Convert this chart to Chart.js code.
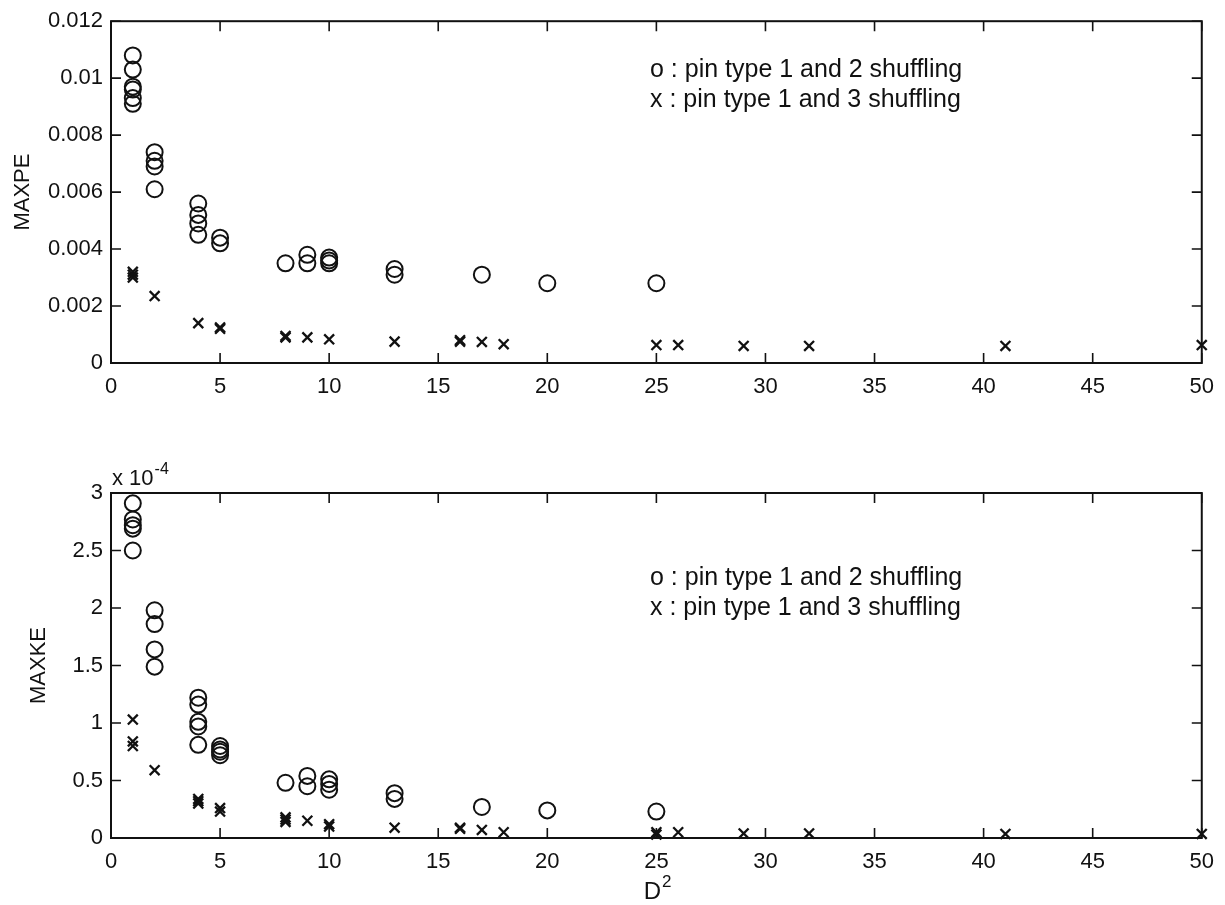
<!DOCTYPE html>
<html>
<head>
<meta charset="utf-8">
<script src="https://cdn.jsdelivr.net/npm/chart.js@4.4.1/dist/chart.umd.min.js"></script>
<style>
  html, body { margin: 0; padding: 0; background: #fff; }
  #wrap { position: relative; width: 1225px; height: 905px; overflow: hidden; }
  .box { position: absolute; left: 0; width: 1225px; }
  #topBox { top: 0; height: 440px; }
  #botBox { top: 440px; height: 465px; }
</style>
</head>
<body>
<div id="wrap">
  <div class="box" id="topBox"><canvas id="peChart" width="1225" height="440"></canvas></div>
  <div class="box" id="botBox"><canvas id="keChart" width="1225" height="465"></canvas></div>
</div>
<script>
// D^2 values on the x axis
var xTicks = [0, 5, 10, 15, 20, 25, 30, 35, 40, 45, 50];

// MAXPE, pin type 1 and 2 shuffling (circles)
var peCircleX = [1, 1, 1, 1, 1, 1, 2, 2, 2, 2, 4, 4, 4, 4, 5, 5, 8, 9, 9, 10, 10, 10, 13, 13, 17, 20, 25];
var peCircleY = [0.0108, 0.0103, 0.0097, 0.0096, 0.0093, 0.0091, 0.0074, 0.0071, 0.0069, 0.0061,
                 0.0056, 0.0052, 0.0049, 0.0045, 0.0044, 0.0042, 0.0035, 0.0038, 0.0035,
                 0.0037, 0.0036, 0.0035, 0.0033, 0.0031, 0.0031, 0.0028, 0.0028];
// MAXPE, pin type 1 and 3 shuffling (crosses)
var peCrossX = [1, 1, 1, 2, 4, 5, 5, 8, 8, 9, 10, 13, 16, 16, 17, 18, 25, 26, 29, 32, 41, 50];
var peCrossY = [0.0032, 0.0031, 0.0030, 0.00235, 0.0014, 0.00125, 0.0012, 0.00095, 0.0009, 0.0009,
                0.00083, 0.00075, 0.0008, 0.00075, 0.00074, 0.00066, 0.00063, 0.00063,
                0.0006, 0.0006, 0.0006, 0.00063];
var peTickValues = [0, 0.002, 0.004, 0.006, 0.008, 0.01, 0.012];
var peTickLabels = ['0', '0.002', '0.004', '0.006', '0.008', '0.01', '0.012'];

// MAXKE in units of 1e-4, pin type 1 and 2 shuffling (circles)
var keCircleX = [1, 1, 1, 1, 1, 2, 2, 2, 2, 4, 4, 4, 4, 4, 5, 5, 5, 5, 8, 9, 9, 10, 10, 10, 13, 13, 17, 20, 25];
var keCircleY = [2.91, 2.77, 2.72, 2.69, 2.50, 1.98, 1.86, 1.64, 1.49, 1.22, 1.16, 1.01, 0.97, 0.81,
                 0.80, 0.77, 0.75, 0.72, 0.48, 0.54, 0.45, 0.51, 0.47, 0.42, 0.39, 0.34, 0.27, 0.24, 0.23];
// MAXKE in units of 1e-4, pin type 1 and 3 shuffling (crosses)
var keCrossX = [1, 1, 1, 2, 4, 4, 4, 5, 5, 8, 8, 8, 9, 10, 10, 13, 16, 16, 17, 18, 25, 25, 26, 29, 32, 41, 50];
var keCrossY = [1.03, 0.84, 0.80, 0.59, 0.34, 0.32, 0.30, 0.26, 0.23, 0.18, 0.16, 0.14, 0.15, 0.12, 0.10,
                0.09, 0.09, 0.08, 0.07, 0.05, 0.05, 0.03, 0.05, 0.04, 0.04, 0.035, 0.035];
var keTickValues = [0, 0.5, 1, 1.5, 2, 2.5, 3];
var keTickLabels = ['0', '0.5', '1', '1.5', '2', '2.5', '3'];

var legendLines = ['o : pin type 1 and 2 shuffling', 'x : pin type 1 and 3 shuffling'];

var FONT = '"Liberation Sans", Arial, Helvetica, sans-serif';
var INK = '#111';

function toPoints(xs, ys) {
    return xs.map(function (x, i) { return { x: x, y: ys[i] }; });
}

// MATLAB style box with inward ticks on all four sides, plus the text notes
var framePlugin = {
    id: 'frame',
    afterDatasetsDraw: function (chart, args, opts) {
        var ctx = chart.ctx;
        var a = chart.chartArea;
        var xs = chart.scales.x, ys = chart.scales.y;
        var len = 10;
        ctx.save();
        ctx.strokeStyle = INK;
        ctx.lineWidth = 1.6;
        xs.ticks.forEach(function (t) {
            var px = xs.getPixelForValue(t.value);
            ctx.beginPath();
            ctx.moveTo(px, a.bottom); ctx.lineTo(px, a.bottom - len);
            ctx.moveTo(px, a.top); ctx.lineTo(px, a.top + len);
            ctx.stroke();
        });
        ys.ticks.forEach(function (t) {
            var py = ys.getPixelForValue(t.value);
            ctx.beginPath();
            ctx.moveTo(a.left, py); ctx.lineTo(a.left + len, py);
            ctx.moveTo(a.right, py); ctx.lineTo(a.right - len, py);
            ctx.stroke();
        });
        ctx.lineWidth = 2;
        ctx.strokeRect(a.left, a.top, a.right - a.left, a.bottom - a.top);

        ctx.fillStyle = INK;
        ctx.textBaseline = 'middle';
        ctx.textAlign = 'left';
        ctx.font = '25px ' + FONT;
        (opts.lines || []).forEach(function (line, i) {
            ctx.fillText(line, opts.x, opts.y + i * 30);
        });
        ctx.textBaseline = 'alphabetic';
        if (opts.exponent) {
            ctx.font = '22px ' + FONT;
            var base = 'x 10';
            ctx.fillText(base, a.left + 1, a.top - 8);
            var w = ctx.measureText(base).width;
            ctx.font = '16px ' + FONT;
            ctx.fillText(opts.exponent, a.left + 2 + w, a.top - 19);
        }
        if (opts.xTitle) {
            var cx = (a.left + a.right) / 2;
            ctx.font = '24px ' + FONT;
            var dw = ctx.measureText(opts.xTitle).width;
            ctx.fillText(opts.xTitle, cx - dw / 2 - 4, chart.height - 6);
            ctx.font = '17px ' + FONT;
            ctx.fillText(opts.xTitleSup, cx + dw / 2 - 3, chart.height - 18);
        }
        ctx.restore();
    }
};

function makeChart(canvasId, circles, crosses, tickValues, tickLabels, cfg) {
    return new Chart(document.getElementById(canvasId), {
        type: 'scatter',
        data: {
            datasets: [{
                data: circles,
                pointStyle: 'circle',
                pointRadius: 8,
                pointHoverRadius: 8,
                pointBorderWidth: 2,
                borderColor: INK,
                backgroundColor: 'rgba(0,0,0,0)',
                clip: false
            }, {
                data: crosses,
                pointStyle: 'crossRot',
                pointRadius: 7,
                pointHoverRadius: 7,
                pointBorderWidth: 2.3,
                borderColor: INK,
                backgroundColor: INK,
                clip: false
            }]
        },
        options: {
            responsive: false,
            animation: false,
            events: [],
            layout: { padding: { top: cfg.top, right: 18, left: 0, bottom: 0 } },
            plugins: {
                legend: { display: false },
                tooltip: { enabled: false },
                frame: {
                    lines: legendLines, x: 650, y: cfg.noteY, exponent: cfg.exponent,
                    xTitle: cfg.xTitle, xTitleSup: cfg.xTitleSup
                }
            },
            scales: {
                x: {
                    type: 'linear',
                    min: 0,
                    max: 50,
                    afterBuildTicks: function (s) {
                        s.ticks = xTicks.map(function (v) { return { value: v }; });
                    },
                    afterFit: function (s) { s.height = cfg.xHeight; },
                    grid: { display: false, drawTicks: false, tickLength: 0 },
                    border: { display: false },
                    ticks: {
                        color: INK,
                        font: { family: FONT, size: 22 },
                        padding: 11,
                        maxRotation: 0,
                        autoSkip: false
                    }
                },
                y: {
                    type: 'linear',
                    min: tickValues[0],
                    max: tickValues[tickValues.length - 1],
                    afterBuildTicks: function (s) {
                        s.ticks = tickValues.map(function (v) { return { value: v }; });
                    },
                    afterFit: function (s) { s.width = 111; },
                    grid: { display: false, drawTicks: false, tickLength: 0 },
                    border: { display: false },
                    ticks: {
                        color: INK,
                        font: { family: FONT, size: 22 },
                        padding: 8,
                        autoSkip: false,
                        callback: function (v, i) { return tickLabels[i]; }
                    },
                    title: {
                        display: true,
                        text: cfg.yTitle,
                        color: INK,
                        font: { family: FONT, size: 22 },
                        padding: { top: cfg.yTitlePad, bottom: 0 }
                    }
                }
            }
        },
        plugins: [framePlugin]
    });
}

makeChart('peChart', toPoints(peCircleX, peCircleY), toPoints(peCrossX, peCrossY),
    peTickValues, peTickLabels,
    { top: 18, xHeight: 77, noteY: 70, yTitle: 'MAXPE', yTitlePad: 10 });

makeChart('keChart', toPoints(keCircleX, keCircleY), toPoints(keCrossX, keCrossY),
    keTickValues, keTickLabels,
    { top: 53, xHeight: 67, noteY: 138, yTitle: 'MAXKE', yTitlePad: 26,
      xTitle: 'D', xTitleSup: '2', exponent: '-4' });
</script>
</body>
</html>
